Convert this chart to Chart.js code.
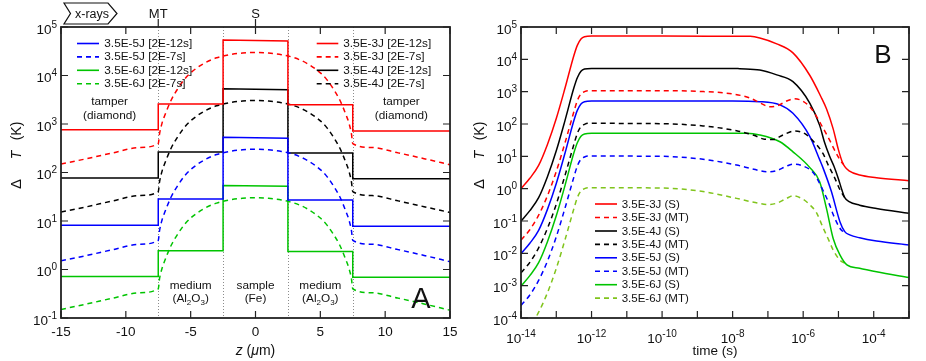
<!DOCTYPE html>
<html><head><meta charset="utf-8">
<script src="https://cdn.jsdelivr.net/npm/chart.js@4.4.0/dist/chart.umd.min.js"></script>
<style>
html,body{margin:0;padding:0;background:#fff;}
#wrap{position:relative;width:926px;height:361px;overflow:hidden;background:#fff;}
canvas{position:absolute;top:0;}
#cA{left:0;width:470px;height:361px;}
#cB{left:470px;width:456px;height:361px;}
</style></head><body>
<div id="wrap"><canvas id="cA" width="470" height="361"></canvas><canvas id="cB" width="456" height="361"></canvas></div>
<script>
// ================= Panel A data (z in micrometres, dT in K) =================
const zSolid  = [-15, -7.5, -7.5, -2.5, -2.5, 2.5, 2.5, 7.5, 7.5, 15];
const aRed12   = [760, 760, 2570, 2570, 54000, 51500, 2500, 2500, 720, 720];
const aBlack12 = [77, 77, 265, 265, 5350, 5100, 252, 252, 74, 74];
const aBlue12  = [8.2, 8.2, 28.5, 28.5, 535, 510, 27, 27, 7.8, 7.8];
const aGreen12 = [0.72, 0.72, 2.45, 2.45, 54, 52, 2.36, 2.36, 0.69, 0.69];

const zDashed = [-15, -13, -11, -9, -7.5, -7.4, -7.2, -7, -6.5, -6, -5.5, -5, -4, -3, -2, -1, 0,
                 1, 2, 3, 4, 5, 5.5, 6, 6.5, 7, 7.2, 7.4, 7.5, 9, 11, 13, 15];
const aRed7   = [150, 193, 254, 327, 394, 624, 1059, 1496, 3126, 5309, 8222, 11350, 17580, 23170, 26920, 29040, 29850,
                 29040, 26920, 23170, 17580, 11350, 8222, 5309, 3126, 1496, 1059, 624, 394, 327, 254, 193, 145];
const aBlack7 = [15.3, 19.7, 26, 33.4, 40.3, 63.8, 108, 153, 320, 543, 841, 1161, 1799, 2371, 2754, 2972, 3055,
                 2972, 2754, 2371, 1799, 1161, 841, 543, 320, 153, 108, 63.8, 40.3, 33.4, 26, 19.7, 15];
const aBlue7  = [1.52, 1.95, 2.57, 3.31, 3.98, 6.31, 10.7, 15.1, 31.6, 53.7, 83.2, 114.8, 177.8, 234.4, 272.3, 293.8, 302,
                 293.8, 272.3, 234.4, 177.8, 114.8, 83.2, 53.7, 31.6, 15.1, 10.7, 6.31, 3.98, 3.31, 2.57, 1.95, 1.45];
const aGreen7 = [0.15, 0.195, 0.257, 0.331, 0.398, 0.646, 1.07, 1.51, 3.16, 5.37, 8.32, 11.5, 17.8, 23.4, 27.2, 29.4, 30.2,
                 29.4, 27.2, 23.4, 17.8, 11.5, 8.32, 5.37, 3.16, 1.51, 1.07, 0.646, 0.398, 0.331, 0.257, 0.195, 0.145];

const aLabels = ['3.5E-5J [2E-12s]', '3.5E-5J [2E-7s]', '3.5E-6J [2E-12s]', '3.5E-6J [2E-7s]',
                 '3.5E-3J [2E-12s]', '3.5E-3J [2E-7s]', '3.5E-4J [2E-12s]', '3.5E-4J [2E-7s]'];
const aXTicks = [-15, -10, -5, 0, 5, 10, 15];
const aYExps  = [-1, 0, 1, 2, 3, 4, 5];
const aBounds = [-7.5, -2.5, 2.5, 7.5];

// ================= Panel B data (time in s, dT in K) =================
const tRedS   = [1e-14, 1.78e-14, 3.16e-14, 5.62e-14, 1e-13, 1.78e-13, 3.16e-13, 3.98e-13, 5.01e-13, 6.31e-13, 1e-12,
                 1e-10, 1e-8, 3.16e-8, 5.89e-8, 1.78e-7, 5.13e-7, 1.55e-6, 3.16e-6, 4.57e-6, 7.08e-6, 1e-5, 1.26e-5, 1.51e-5, 2e-5, 3.98e-5, 1.2e-4, 1e-3];
const vRedS   = [1.0, 2.09, 5.25, 23.4, 148, 1318, 13180, 27540, 42660, 50120, 52480,
                 52480, 52000, 51300, 45700, 30200, 15850, 3162, 708, 295, 70.8, 15.8, 7.08, 4.79, 3.55, 2.63, 2.19, 1.76];
const tRedMT  = [1e-14, 1.78e-14, 3.16e-14, 5.62e-14, 1e-13, 1.78e-13, 3.16e-13, 3.98e-13, 5.01e-13, 6.31e-13, 7.94e-13,
                 1e-10, 1e-9, 1e-8, 3.16e-8, 6.31e-8, 1.12e-7, 2e-7, 3.55e-7, 5.62e-7, 1e-6, 1.78e-6, 3.16e-6, 5.62e-6, 8.71e-6, 1.26e-5, 1.41e-5];
const vRedMT  = [0.0257, 0.0537, 0.151, 0.603, 3.39, 26.9, 240, 537, 851, 1000, 1072,
                 1072, 1023, 851, 631, 437, 339, 380, 525, 603, 501, 282, 100, 31.6, 12.3, 6.31, 5.6];
const tBlackS = [1e-14, 1.78e-14, 3.16e-14, 5.62e-14, 1e-13, 1.78e-13, 3.16e-13, 3.98e-13, 5.01e-13, 6.31e-13, 1e-12,
                 1e-10, 1e-8, 1.58e-8, 5.89e-8, 1.78e-7, 5.13e-7, 1.55e-6, 2.95e-6, 3.98e-6, 5.62e-6, 7.41e-6, 1e-5, 1.26e-5, 1.51e-5, 2e-5, 3.98e-5, 1.2e-4, 1e-3];
const vBlackS = [0.1, 0.209, 0.525, 2.34, 14.8, 132, 1318, 2754, 4266, 5012, 5248,
                 5248, 5248, 5129, 4677, 3311, 2042, 437, 89.1, 28.2, 10, 5.01, 2.0, 0.891, 0.525, 0.398, 0.309, 0.245, 0.174];
const tBlackMT = [1e-14, 1.78e-14, 3.16e-14, 5.62e-14, 1e-13, 1.78e-13, 3.16e-13, 3.98e-13, 5.01e-13, 6.31e-13, 7.94e-13,
                  1e-10, 1.45e-9, 1.29e-8, 3.98e-8, 7.94e-8, 1.41e-7, 2.69e-7, 5.62e-7, 1.12e-6, 2e-6, 3.63e-6, 5.13e-6, 7.94e-6, 1.12e-5, 1.51e-5];
const vBlackMT = [0.00251, 0.00525, 0.0148, 0.0589, 0.331, 2.63, 23.4, 52.5, 83.2, 97.7, 104.7,
                  102, 87.1, 61.7, 44.7, 33.9, 33.1, 45.7, 60.3, 50.1, 28.2, 12.3, 5.37, 2.09, 0.891, 0.525];
const tBlueS  = [1e-14, 1.78e-14, 3.16e-14, 5.62e-14, 1e-13, 1.78e-13, 3.16e-13, 3.98e-13, 5.01e-13, 6.31e-13, 1e-12,
                 1e-10, 1e-8, 5.89e-8, 2.19e-7, 5.13e-7, 1.55e-6, 2.95e-6, 3.63e-6, 6.31e-6, 1.1e-5, 1.51e-5, 2.09e-5, 3.98e-5, 1.2e-4, 1e-3];
const vBlueS  = [0.00977, 0.0204, 0.0513, 0.229, 1.445, 12.9, 128.8, 269, 417, 490, 513,
                 513, 513, 490, 389, 214, 40.7, 7.76, 4.47, 0.813, 0.0955, 0.0468, 0.0372, 0.0302, 0.024, 0.0182];
const tBlueMT = [1e-14, 1.78e-14, 3.16e-14, 5.62e-14, 1e-13, 1.78e-13, 3.16e-13, 3.98e-13, 5.01e-13, 6.31e-13, 7.94e-13,
                 1e-10, 1.45e-9, 1.29e-8, 3.98e-8, 1e-7, 1.78e-7, 3.16e-7, 5.13e-7, 1e-6, 1.91e-6, 2.51e-6, 3.63e-6, 5.62e-6, 7.08e-6, 1.2e-5, 1.51e-5];
const vBlueMT = [2.45e-4, 5.13e-4, 1.45e-3, 5.75e-3, 0.0324, 0.257, 2.29, 5.13, 8.13, 9.55, 10.2,
                 10.0, 8.13, 5.37, 3.98, 3.31, 3.63, 4.79, 5.75, 5.01, 3.16, 2.0, 0.891, 0.316, 0.158, 0.0525, 0.046];
const tGreenS = [1e-14, 1.78e-14, 3.16e-14, 5.62e-14, 1e-13, 1.78e-13, 3.16e-13, 3.98e-13, 5.01e-13, 6.31e-13, 1e-12,
                 1e-10, 2.51e-8, 5.89e-8, 2.19e-7, 5.13e-7, 1.55e-6, 2.95e-6, 4.57e-6, 7.08e-6, 1.1e-5, 1.74e-5, 3.98e-5, 1.2e-4, 1e-3];
const vGreenS = [0.000977, 0.00204, 0.00513, 0.0229, 0.1445, 1.29, 12.88, 26.9, 41.7, 49.0, 51.3,
                 51.3, 51.3, 45.7, 28.2, 13.8, 4.47, 1.62, 0.245, 0.0288, 0.00891, 0.00437, 0.00347, 0.00269, 0.00178];
const tGreenMT = [1e-14, 1.78e-14, 3.16e-14, 5.62e-14, 1e-13, 1.78e-13, 3.16e-13, 3.98e-13, 5.01e-13, 6.31e-13, 7.94e-13,
                  1e-10, 1.45e-9, 1.29e-8, 3.98e-8, 1e-7, 1.78e-7, 3.16e-7, 5.13e-7, 1e-6, 1.55e-6, 2.4e-6, 3.63e-6, 5.62e-6, 7.08e-6, 1.1e-5, 1.58e-5];
const vGreenMT = [2.57e-5, 5.37e-5, 1.51e-4, 6.03e-4, 3.39e-3, 0.0269, 0.24, 0.537, 0.851, 1.0, 1.072,
                  1.047, 0.813, 0.501, 0.38, 0.324, 0.355, 0.479, 0.603, 0.468, 0.316, 0.178, 0.0631, 0.0224, 0.0126, 0.00617, 0.0048];

const bLabels = ['3.5E-3J (S)', '3.5E-3J (MT)', '3.5E-4J (S)', '3.5E-4J (MT)',
                 '3.5E-5J (S)', '3.5E-5J (MT)', '3.5E-6J (S)', '3.5E-6J (MT)'];
const bXExps = [-14, -13, -12, -11, -10, -9, -8, -7, -6, -5, -4, -3];
const bXLabelExps = [-14, -12, -10, -8, -6, -4];
const bYExps = [-4, -3, -2, -1, 0, 1, 2, 3, 4, 5];

// ================= styling =================
const FONT = '"Liberation Sans", Arial, Helvetica, sans-serif';
const C = {red: '#ff0000', black: '#000000', blue: '#0000ff', green: '#00c400', lime: '#80c41c'};
const DASH = [5, 4];
const pts = (xs, ys) => xs.map((x, i) => ({x: x, y: ys[i]}));

function ds(label, xs, ys, color, dashed, smooth) {
  return {label, data: pts(xs, ys), borderColor: color, backgroundColor: color, borderWidth: 1.5,
    borderDash: dashed ? DASH : [], pointRadius: 0, fill: false,
    tension: 0, cubicInterpolationMode: smooth ? 'monotone' : 'default'};
}

function runs(ctx, parts, x, y, align) {
  let w = 0;
  for (const p of parts) { ctx.font = (p.style || '') + ' ' + p.size + 'px ' + FONT; p.w = ctx.measureText(p.t).width; w += p.w; }
  let cx = align === 'right' ? x - w : (align === 'left' ? x : x - w / 2);
  ctx.textAlign = 'left'; ctx.textBaseline = 'alphabetic';
  for (const p of parts) { ctx.font = (p.style || '') + ' ' + p.size + 'px ' + FONT; ctx.fillText(p.t, cx, y + (p.dy || 0)); cx += p.w; }
}
function powLabel(ctx, exp, x, y, align) {
  runs(ctx, [{t: '10', size: 13.5}, {t: String(exp), size: 10, dy: -6}], x, y, align);
}
function legendRow(ctx, x1, x2, xt, y, d, size) {
  ctx.save();
  ctx.strokeStyle = d.borderColor; ctx.lineWidth = 1.6; ctx.setLineDash(d.borderDash || []);
  ctx.beginPath(); ctx.moveTo(x1, y); ctx.lineTo(x2, y); ctx.stroke();
  ctx.restore();
  ctx.fillStyle = '#111';
  runs(ctx, [{t: d.label, size: size}], xt, y + 3.5, 'left');
}
function frameTicks(ctx, ca, xs, ys) {
  ctx.save();
  ctx.strokeStyle = '#222'; ctx.lineWidth = 1.2; ctx.setLineDash([]);
  const TL = 7;
  ctx.beginPath();
  for (const px of xs) { ctx.moveTo(px, ca.bottom); ctx.lineTo(px, ca.bottom - TL); ctx.moveTo(px, ca.top); ctx.lineTo(px, ca.top + TL); }
  for (const py of ys) { ctx.moveTo(ca.left, py); ctx.lineTo(ca.left + TL, py); ctx.moveTo(ca.right, py); ctx.lineTo(ca.right - TL, py); }
  ctx.stroke();
  ctx.lineWidth = 1.8;
  ctx.strokeRect(ca.left, ca.top, ca.right - ca.left, ca.bottom - ca.top);
  ctx.restore();
}
// rotated axis title "Δ T (K)": x = baseline position, pieces centred at given screen y
function yTitle(ctx, x) {
  const pieces = [[[{t: 'Δ', size: 15}], 184], [[{t: 'T', size: 14, style: 'italic'}], 155], [[{t: '(K)', size: 14}], 131]];
  for (const [parts, cy] of pieces) {
    ctx.save(); ctx.translate(x, cy); ctx.rotate(-Math.PI / 2); ctx.fillStyle = '#111';
    runs(ctx, parts, 0, 0, 'center');
    ctx.restore();
  }
}

// ================= Panel A =================
const decoA = {
  id: 'decoA',
  beforeDatasetsDraw(chart) {
    const {ctx, chartArea: ca, scales: {x}} = chart;
    ctx.save(); ctx.strokeStyle = '#8c8c8c'; ctx.lineWidth = 1; ctx.setLineDash([1, 2]);
    ctx.beginPath();
    for (const z of aBounds) { const px = Math.round(x.getPixelForValue(z)) + 0.5; ctx.moveTo(px, ca.top); ctx.lineTo(px, ca.bottom); }
    ctx.stroke(); ctx.restore();
  },
  afterDatasetsDraw(chart) {
    const {ctx, chartArea: ca, scales: {x, y}} = chart;
    frameTicks(ctx, ca, aXTicks.map(v => x.getPixelForValue(v)), aYExps.map(e => y.getPixelForValue(Math.pow(10, e))));
  },
  afterDraw(chart) {
    const {ctx, chartArea: ca, scales: {x, y}} = chart;
    const dsets = chart.data.datasets;
    ctx.save(); ctx.fillStyle = '#111';
    for (const v of aXTicks) runs(ctx, [{t: String(v), size: 13.5}], x.getPixelForValue(v), ca.bottom + 18, 'center');
    for (const e of aYExps) powLabel(ctx, e, ca.left - 4, y.getPixelForValue(Math.pow(10, e)) + 6.5, 'right');
    // top markers MT / S
    ctx.strokeStyle = '#222'; ctx.lineWidth = 1.2;
    ctx.beginPath();
    for (const z of [-7.5, 0]) { const px = x.getPixelForValue(z); ctx.moveTo(px, ca.top - 8); ctx.lineTo(px, ca.top); }
    ctx.stroke();
    runs(ctx, [{t: 'MT', size: 13}], x.getPixelForValue(-7.5), 17.5, 'center');
    runs(ctx, [{t: 'S', size: 13}], x.getPixelForValue(0), 17.5, 'center');
    // x-rays arrow
    ctx.lineWidth = 1.2; ctx.strokeStyle = '#111';
    ctx.beginPath();
    ctx.moveTo(64, 3); ctx.lineTo(108, 3); ctx.lineTo(117, 13.5); ctx.lineTo(108, 24); ctx.lineTo(64, 24); ctx.lineTo(70.5, 13.5); ctx.closePath();
    ctx.stroke();
    runs(ctx, [{t: 'x-rays', size: 12.5}], 92, 17.5, 'center');
    // axis titles
    runs(ctx, [{t: 'z', size: 14, style: 'italic'}, {t: ' (', size: 14}, {t: 'μ', size: 14, style: 'italic'}, {t: 'm)', size: 14}], (ca.left + ca.right) / 2, 355, 'center');
    yTitle(ctx, 20.5);
    // region annotations
    const tx = [x.getPixelForValue(-11.25), x.getPixelForValue(11.25)];
    for (const px of tx) { runs(ctx, [{t: 'tamper', size: 11.8}], px, 104.5, 'center'); runs(ctx, [{t: '(diamond)', size: 11.8}], px, 119, 'center'); }
    for (const z of [-5, 5]) {
      const px = x.getPixelForValue(z);
      runs(ctx, [{t: 'medium', size: 11.8}], px, 289.3, 'center');
      runs(ctx, [{t: '(Al', size: 11.8}, {t: '2', size: 8, dy: 3}, {t: 'O', size: 11.8}, {t: '3', size: 8, dy: 3}, {t: ')', size: 11.8}], px, 301.6, 'center');
    }
    runs(ctx, [{t: 'sample', size: 11.8}], x.getPixelForValue(0), 289.3, 'center');
    runs(ctx, [{t: '(Fe)', size: 11.8}], x.getPixelForValue(0), 301.6, 'center');
    runs(ctx, [{t: 'A', size: 29}], 421, 307.5, 'center');
    // legend (two columns)
    const rows = [43.5, 56.9, 70.3, 83.7];
    const leftCol = [0, 1, 2, 3], rightCol = [4, 5, 6, 7];
    leftCol.forEach((i, r) => legendRow(ctx, 77, 99, 104.3, rows[r], dsets[i], 11.8));
    rightCol.forEach((i, r) => legendRow(ctx, 316.7, 338.3, 343.3, rows[r], dsets[i], 11.8));
    ctx.restore();
  }
};

new Chart(document.getElementById('cA'), {
  type: 'line',
  data: {datasets: [
    ds(aLabels[0], zSolid, aBlue12, C.blue, false, false),
    ds(aLabels[1], zDashed, aBlue7, C.blue, true, true),
    ds(aLabels[2], zSolid, aGreen12, C.green, false, false),
    ds(aLabels[3], zDashed, aGreen7, C.green, true, true),
    ds(aLabels[4], zSolid, aRed12, C.red, false, false),
    ds(aLabels[5], zDashed, aRed7, C.red, true, true),
    ds(aLabels[6], zSolid, aBlack12, C.black, false, false),
    ds(aLabels[7], zDashed, aBlack7, C.black, true, true)
  ]},
  options: {
    responsive: false, animation: false, events: [],
    layout: {padding: {left: 0, right: 20, top: 27, bottom: 0}},
    plugins: {legend: {display: false}, tooltip: {enabled: false}},
    scales: {
      x: {type: 'linear', min: -15, max: 15, grid: {display: false}, border: {display: false}, ticks: {display: false},
          afterFit(s) { s.height = 43; }},
      y: {type: 'logarithmic', min: 0.1, max: 1e5, grid: {display: false}, border: {display: false}, ticks: {display: false},
          afterFit(s) { s.width = 61; }}
    }
  },
  plugins: [decoA]
});

// ================= Panel B =================
const decoB = {
  id: 'decoB',
  afterDatasetsDraw(chart) {
    const {ctx, chartArea: ca, scales: {x, y}} = chart;
    frameTicks(ctx, ca, bXExps.map(e => x.getPixelForValue(Math.pow(10, e))), bYExps.map(e => y.getPixelForValue(Math.pow(10, e))));
  },
  afterDraw(chart) {
    const {ctx, chartArea: ca, scales: {x, y}} = chart;
    const dsets = chart.data.datasets;
    ctx.save(); ctx.fillStyle = '#111';
    for (const e of bXLabelExps) powLabel(ctx, e, x.getPixelForValue(Math.pow(10, e)), 343.3, 'center');
    for (const e of bYExps) powLabel(ctx, e, ca.left - 4, y.getPixelForValue(Math.pow(10, e)) + 6.5, 'right');
    runs(ctx, [{t: 'time (s)', size: 13.5}], (ca.left + ca.right) / 2, 354.5, 'center');
    yTitle(ctx, 14);
    runs(ctx, [{t: 'B', size: 26}], 413, 63.3, 'center');
    const rows = [204, 217.5, 231, 244.4, 257.8, 271.3, 284.7, 298.1];
    dsets.forEach((d, i) => legendRow(ctx, 125, 147, 151.7, rows[i], d, 11.5));
    ctx.restore();
  }
};

new Chart(document.getElementById('cB'), {
  type: 'line',
  data: {datasets: [
    ds(bLabels[0], tRedS, vRedS, C.red, false, true),
    ds(bLabels[1], tRedMT, vRedMT, C.red, true, true),
    ds(bLabels[2], tBlackS, vBlackS, C.black, false, true),
    ds(bLabels[3], tBlackMT, vBlackMT, C.black, true, true),
    ds(bLabels[4], tBlueS, vBlueS, C.blue, false, true),
    ds(bLabels[5], tBlueMT, vBlueMT, C.blue, true, true),
    ds(bLabels[6], tGreenS, vGreenS, C.green, false, true),
    ds(bLabels[7], tGreenMT, vGreenMT, C.lime, true, true)
  ]},
  options: {
    responsive: false, animation: false, events: [],
    layout: {padding: {left: 0, right: 17, top: 27, bottom: 0}},
    plugins: {legend: {display: false}, tooltip: {enabled: false}},
    scales: {
      x: {type: 'logarithmic', min: 1e-14, max: 1e-3, grid: {display: false}, border: {display: false}, ticks: {display: false},
          afterFit(s) { s.height = 43; }},
      y: {type: 'logarithmic', min: 1e-4, max: 1e5, grid: {display: false}, border: {display: false}, ticks: {display: false},
          afterFit(s) { s.width = 51; }}
    }
  },
  plugins: [decoB]
});
</script></body></html>
